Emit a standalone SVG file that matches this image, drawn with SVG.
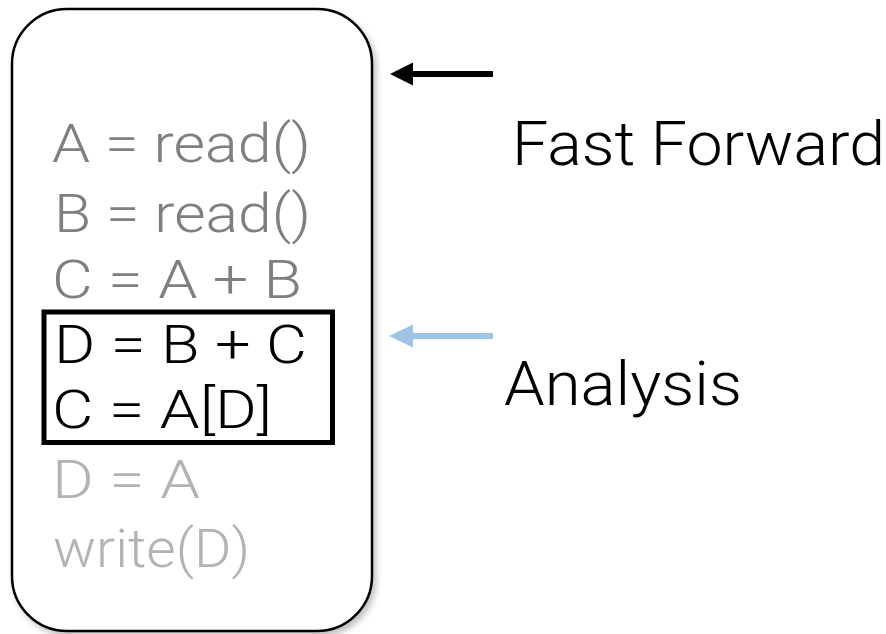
<svg xmlns="http://www.w3.org/2000/svg" width="886" height="634" viewBox="0 0 886 634">
  <defs>
    <filter id="soft-shadow" x="-10%" y="-10%" width="120%" height="120%">
      <feGaussianBlur in="SourceAlpha" stdDeviation="3"/>
      <feOffset dx="3" dy="4" result="blur"/>
      <feComponentTransfer><feFuncA type="linear" slope="0.25"/></feComponentTransfer>
      <feMerge><feMergeNode/><feMergeNode in="SourceGraphic"/></feMerge>
    </filter>
  </defs>
  <style>
    .code { font-family: Roboto, "Liberation Sans", sans-serif; font-weight: 300; font-size: 53.5px; }
    .label { font-family: Roboto, "Liberation Sans", sans-serif; font-weight: 300; font-size: 62px; fill: #000000; }
    .past { fill: #7f7f7f; }
    .current { fill: #000000; }
    .future { fill: #b3b3b3; }
    .frame { fill: #ffffff; stroke: #000000; stroke-width: 2.5; }
    .window { fill: none; stroke: #000000; stroke-width: 5; }
  </style>

  <rect width="886" height="634" fill="#ffffff"/>

  <!-- program listing -->
  <g id="program">
    <rect class="frame" x="12" y="9" width="360" height="622" rx="55" ry="55" filter="url(#soft-shadow)"/>
    <text class="code past" x="52" y="162" textLength="259" lengthAdjust="spacingAndGlyphs">A = read()</text>
    <text class="code past" x="54" y="232" textLength="257" lengthAdjust="spacingAndGlyphs">B = read()</text>
    <text class="code past" x="52" y="298" textLength="250" lengthAdjust="spacingAndGlyphs">C = A + B</text>
    <text class="code current" x="54" y="363" textLength="253" lengthAdjust="spacingAndGlyphs">D = B + C</text>
    <text class="code current" x="52" y="428" textLength="220" lengthAdjust="spacingAndGlyphs">C = A[D]</text>
    <text class="code future" x="52" y="498" textLength="148" lengthAdjust="spacingAndGlyphs">D = A</text>
    <text class="code future" x="53" y="567" textLength="197" lengthAdjust="spacingAndGlyphs">write(D)</text>
  </g>

  <!-- analysis window over the current statements -->
  <g id="window">
    <rect class="window" x="44" y="312" width="288.5" height="130.5"/>
  </g>

  <g id="label-fast-forward">
    <text class="label" x="512" y="165" textLength="373" lengthAdjust="spacingAndGlyphs">Fast Forward</text>
  </g>

  <g id="label-analysis">
    <text class="label" x="504" y="405" textLength="238" lengthAdjust="spacingAndGlyphs">Analysis</text>
  </g>

  <!-- pointers -->
  <g id="connectors">
    <line x1="410" y1="74" x2="493" y2="74" stroke="#000000" stroke-width="6"/>
    <polygon points="390,74 413,62.5 413,85.5" fill="#000000"/>
    <line x1="410" y1="336" x2="493" y2="336" stroke="#9dc3e6" stroke-width="6"/>
    <polygon points="389,336 413,324.5 413,347.5" fill="#9dc3e6"/>
  </g>
</svg>
